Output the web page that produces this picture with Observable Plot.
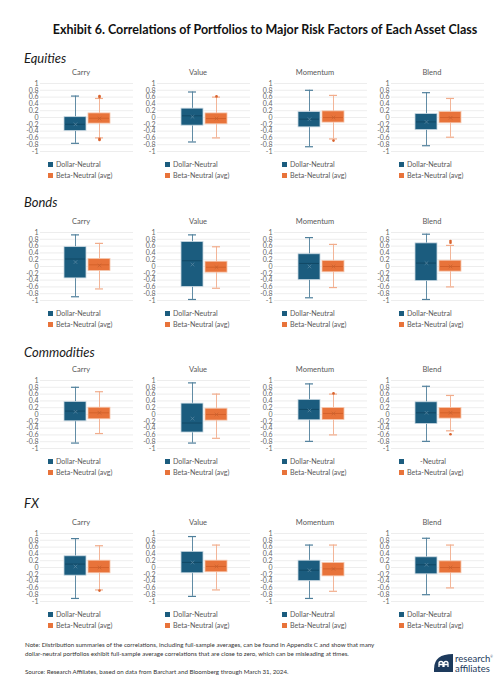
<!DOCTYPE html>
<html><head><meta charset="utf-8">
<script src="https://cdn.jsdelivr.net/npm/d3@7"></script>
<script src="https://cdn.jsdelivr.net/npm/@observablehq/plot@0.6"></script>
<style>
body{margin:0;background:#fff;font-family:Lato,"Open Sans",sans-serif;}
#page{position:relative;width:500px;height:693px;overflow:hidden;background:#fff;}
.abs{position:absolute;white-space:nowrap;}
.ptitle{font-size:7.5px;color:#595959;text-align:center;width:100px;line-height:10px;}
.rowlab{font-size:13px;font-style:italic;color:#1a1a1a;line-height:16px;}
.leg{font-size:7.1px;color:#595959;line-height:10px;}
.sw{display:inline-block;width:5px;height:5px;margin-right:3px;vertical-align:0px;}
.note{font-size:6.2px;color:#333;line-height:8.5px;}
</style></head><body><div id="page"></div><script>
// ---------- data ----------
const assetClasses = ["Equities", "Bonds", "Commodities", "FX"];
const factors = ["Carry", "Value", "Momentum", "Blend"];
const seriesNames = ["Dollar-Neutral", "Beta-Neutral (avg)"];
const yTicks = [1, 0.8, 0.6, 0.4, 0.2, 0, -0.2, -0.4, -0.6, -0.8, -1];
const yTickLabels = ["1", "0.8", "0.6", "0.4", "0.2", "0", "-0.2", "-0.4", "-0.6", "-0.8", "-1"];

// rows: asset class, columns: factor (Carry, Value, Momentum, Blend)
const dnLow    = [[-0.76, -0.72, -0.86, -0.83], [-0.89, -0.97, -0.92, -0.97], [-0.84, -0.84, -0.79, -0.79], [-0.91, -0.85, -0.91, -0.80]];
const dnQ1     = [[-0.40, -0.24, -0.29, -0.37], [-0.35, -0.60, -0.40, -0.43], [-0.20, -0.53, -0.17, -0.28], [-0.24, -0.17, -0.40, -0.20]];
const dnMedian = [[-0.20,  0.05, -0.05, -0.13], [ 0.22,  0.17,  0.09,  0.10], [ 0.10, -0.25,  0.15,  0.05], [ 0.10,  0.15, -0.08,  0.08]];
const dnQ3     = [[ 0.01,  0.26,  0.16,  0.10], [ 0.57,  0.72,  0.36,  0.68], [ 0.37,  0.32,  0.43,  0.36], [ 0.33,  0.46,  0.20,  0.30]];
const dnHigh   = [[ 0.63,  0.75,  0.80,  0.73], [ 0.93,  0.93,  0.85,  0.95], [ 0.80,  0.93,  0.90,  0.83], [ 0.85,  0.91,  0.66,  0.86]];
const dnMean   = [[-0.20,  0.02, -0.05, -0.13], [ 0.13,  0.06,  0.00,  0.10], [ 0.08, -0.12,  0.12,  0.05], [ 0.03,  0.15, -0.08,  0.08]];
const dnOutliers = [[[], [], [], []], [[], [], [], []], [[], [], [], []], [[], [], [], []]];

const bnLow    = [[-0.60, -0.60, -0.63, -0.58], [-0.66, -0.64, -0.62, -0.60], [-0.56, -0.70, -0.60, -0.48], [-0.66, -0.66, -0.70, -0.60]];
const bnQ1     = [[-0.18, -0.20, -0.15, -0.17], [-0.13, -0.18, -0.17, -0.15], [-0.14, -0.18, -0.16, -0.12], [-0.17, -0.14, -0.26, -0.17]];
const bnMedian = [[-0.02, -0.03,  0.00,  0.00], [ 0.05, -0.02,  0.00,  0.00], [ 0.05,  0.00,  0.03,  0.05], [ 0.00,  0.03, -0.04,  0.00]];
const bnQ3     = [[ 0.12,  0.12,  0.18,  0.16], [ 0.22,  0.14,  0.16,  0.17], [ 0.20,  0.17,  0.19,  0.19], [ 0.20,  0.20,  0.13,  0.18]];
const bnHigh   = [[ 0.56,  0.60,  0.65,  0.56], [ 0.68,  0.58,  0.65,  0.62], [ 0.67,  0.60,  0.60,  0.56], [ 0.64,  0.66,  0.66,  0.66]];
const bnMean   = [[-0.03, -0.03,  0.00, -0.01], [ 0.03, -0.02,  0.00,  0.00], [ 0.05,  0.00,  0.03,  0.05], [ 0.00,  0.03, -0.04,  0.00]];
const bnOutliers = [[[0.60, 0.63, -0.63, -0.66], [0.62], [-0.68], []], [[], [], [], [0.70, 0.75]], [[], [], [0.62], [-0.58]], [[-0.68], [], [], []]];

// ---------- styling / layout ----------
const blue = "#1b5c7e", orange = "#e8733a";
const whisker = {"Dollar-Neutral": "#4f7f9b", "Beta-Neutral (avg)": "#f2ad8c"};
const boxStroke = {"Dollar-Neutral": "#c8d8e2", "Beta-Neutral (avg)": "#f6c6ad"};
const medianCol = {"Dollar-Neutral": "#0f445f", "Beta-Neutral (avg)": "#cf5d27"};
const meanCol = {"Dollar-Neutral": "#5d8aa4", "Beta-Neutral (avg)": "#c4602f"};
const gridTops = [83, 232, 380, 533];
const rowLabelY = [58, 202, 352, 503];
const colStarts = [40, 157, 274, 391];
const GW = 93, GH = 68, ML = 28, MT = 4;

const page = document.getElementById("page");
function addDiv(cls, html, left, top, extra) {
  const d = document.createElement("div");
  d.className = "abs " + cls;
  d.innerHTML = html;
  d.style.left = left + "px"; d.style.top = top + "px";
  if (extra) Object.assign(d.style, extra);
  page.appendChild(d);
  return d;
}

addDiv("", "Exhibit 6. Correlations of Portfolios to Major Risk Factors of Each Asset Class", 0, 22,
  {width: "530px", textAlign: "center", fontWeight: "700", fontSize: "12.5px", color: "#111", lineHeight: "16px"});

assetClasses.forEach((ac, a) => {
  addDiv("rowlab", ac, 24, rowLabelY[a] - 8);
  factors.forEach((f, j) => {
    const gx = colStarts[j], gy = gridTops[a];
    addDiv("ptitle", f, gx + 41 - 50, gy - 15);
    const rows = seriesNames.map((s, k) => {
      const src = k === 0
        ? [dnLow, dnQ1, dnMedian, dnQ3, dnHigh, dnMean]
        : [bnLow, bnQ1, bnMedian, bnQ3, bnHigh, bnMean];
      return {series: s, low: src[0][a][j], q1: src[1][a][j], median: src[2][a][j], q3: src[3][a][j], high: src[4][a][j], mean: src[5][a][j]};
    });
    const outs = [];
    dnOutliers[a][j].forEach(v => outs.push({series: seriesNames[0], v}));
    bnOutliers[a][j].forEach(v => outs.push({series: seriesNames[1], v}));
    const chart = Plot.plot({
      width: ML + GW, height: GH + 2 * MT,
      marginLeft: ML, marginRight: 0, marginTop: MT, marginBottom: MT,
      style: {fontFamily: "Lato, 'Open Sans', sans-serif", fontSize: "7px", color: "#666", background: "transparent", overflow: "visible"},
      x: {type: "band", domain: seriesNames, range: [ML + 24, ML + 70], paddingInner: 0.09, paddingOuter: 0, axis: null},
      y: {domain: [-1, 1], ticks: yTicks, tickFormat: d => yTickLabels[yTicks.indexOf(d)], tickSize: 0, tickPadding: 2, label: null},
      marks: [
        Plot.ruleY(yTicks, {stroke: "#e9e9e9", strokeWidth: 0.8}),
        Plot.ruleX(rows, {x: "series", y1: "low", y2: "high", stroke: d => whisker[d.series], strokeWidth: 0.9}),
        Plot.tickY(rows, {x: "series", y: "low", stroke: d => whisker[d.series], strokeWidth: 1.2, insetLeft: 7, insetRight: 7}),
        Plot.tickY(rows, {x: "series", y: "high", stroke: d => whisker[d.series], strokeWidth: 1.2, insetLeft: 7, insetRight: 7}),
        Plot.barY(rows, {x: "series", y1: "q1", y2: "q3", fill: d => d.series === seriesNames[0] ? blue : orange, stroke: d => boxStroke[d.series], strokeWidth: 0.8}),
        Plot.tickY(rows, {x: "series", y: "median", stroke: d => medianCol[d.series], strokeWidth: 0.8, insetLeft: 1, insetRight: 1}),
        Plot.dot(rows, {x: "series", y: "mean", symbol: "times", r: 1.8, stroke: d => meanCol[d.series], strokeWidth: 0.7}),
        Plot.dot(outs, {x: "series", y: "v", r: 1.3, fill: d => d.series === seriesNames[0] ? "#3f7090" : "#d9622c", stroke: "none"})
      ]
    });
    chart.style.position = "absolute";
    chart.style.left = (gx - ML) + "px";
    chart.style.top = (gy - MT) + "px";
    page.appendChild(chart);
    const dnText = (a === 2 && j === 3) ? '<span style="margin-left:13px">-Neutral</span>' : seriesNames[0];
    addDiv("leg", `<span class="sw" style="background:${blue}"></span>${dnText}`, gx + 8, gy + 77);
    addDiv("leg", `<span class="sw" style="background:${orange}"></span>${seriesNames[1]}`, gx + 8, gy + 88);
  });
});

addDiv("note", "Note: Distribution summaries of the correlations, including full-sample averages, can be found in Appendix C and show that many<br>dollar-neutral portfolios exhibit full-sample average correlations that are close to zero, which can be misleading at times.", 25, 641);
addDiv("note", "Source: Research Affiliates, based on data from Barchart and Bloomberg through March 31, 2024.", 25, 668);

// logo
addDiv("", `<svg width="19" height="18" viewBox="0 0 19 18"><path d="M0 18 L0 15 Q0 0 19 0 L19 18 Z" fill="#1d3a5c"/><path d="M5 13 L5 9.5 Q5 7.5 7 7.5 Q9 7.5 9 9.5 L9 13 M10 13 L10 9.5 Q10 7.5 12 7.5 Q14 7.5 14 9.5 L14 13 M5 10.5 H14" stroke="#fff" stroke-width="1.3" fill="none"/></svg>`, 434, 654, {lineHeight: "0"});
addDiv("", `research<sup style="font-size:3px">®</sup><br>affiliates`, 455, 653, {fontSize: "9.5px", color: "#1d3a5c", lineHeight: "9.5px"});
</script></body></html>
